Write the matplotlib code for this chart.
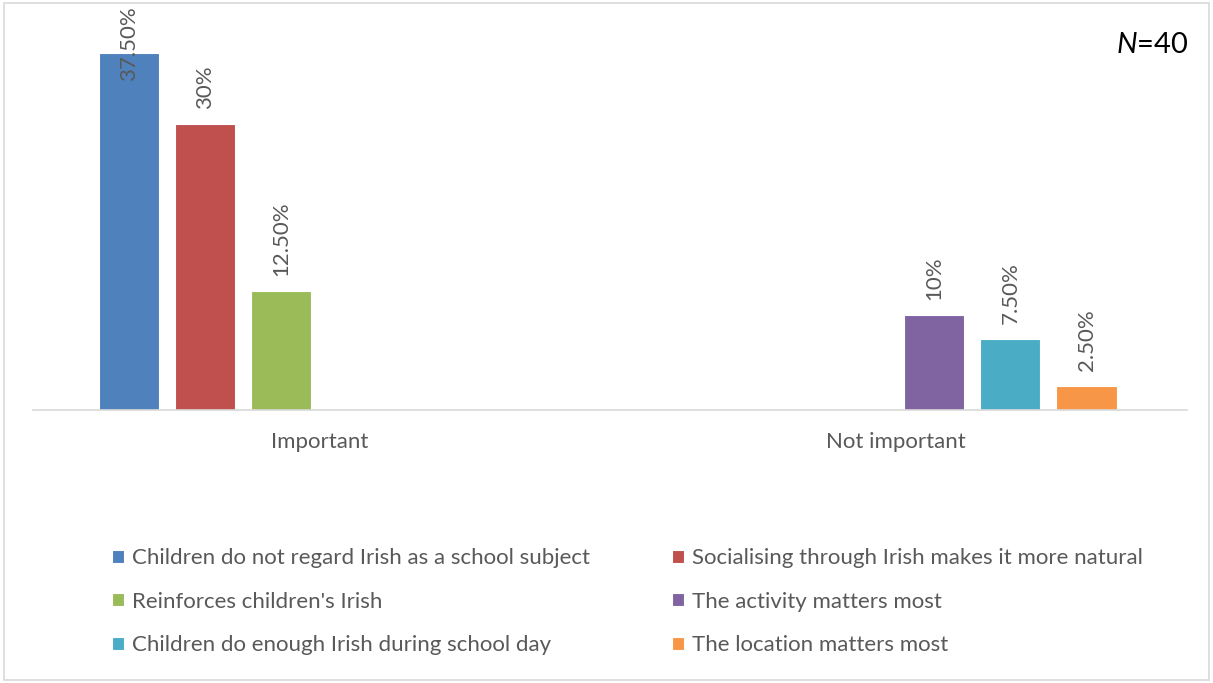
import numpy as np
import matplotlib
matplotlib.use("Agg")
import matplotlib.pyplot as plt
from matplotlib.patches import Rectangle

plt.rcParams['font.family'] = ['Lato', 'DejaVu Sans']
plt.rcParams['mathtext.fontset'] = 'custom'
plt.rcParams['mathtext.it'] = 'Lato:italic'
plt.rcParams['mathtext.rm'] = 'Lato'

# data
categories = ["Important", "Not important"]
series_names = [
    "Children do not regard Irish as a school subject",
    "Socialising through Irish makes it more natural",
    "Reinforces children's Irish",
    "The activity matters most",
    "Children do enough Irish during school day",
    "The location matters most",
]
# percentage per series for (Important, Not important); None = no bar
series_values = [
    [37.5, None],
    [30.0, None],
    [12.5, None],
    [None, 10.0],
    [None, 7.5],
    [None, 2.5],
]
value_labels = ["37.50%", "30%", "12.50%", "10%", "7.50%", "2.50%"]
colors = ["#4F81BD", "#C0504D", "#9BBB59", "#8064A2", "#4BACC6", "#F79646"]

text_col = "#595959"
fs = 16

fig = plt.figure(figsize=(12.13, 6.83), dpi=100)
ax = fig.add_axes([33 / 1213, 1 - 410 / 683, (1187 - 33) / 1213, (410 - 29) / 683])

n = len(series_names)
step = 76 / 576
width = 60 / 576
x = np.arange(len(categories))

handles = []
for i in range(n):
    vals = [np.nan if v is None else v for v in series_values[i]]
    pos = x + (i - (n - 1) / 2) * step
    b = ax.bar(pos, vals, width, color=colors[i], edgecolor="white", linewidth=0.8,
               label=series_names[i])
    handles.append(b)
    for p, v in zip(pos, series_values[i]):
        if v is None:
            continue
        if v + 9.5 > 42.5:
            # no room above the bar: push label down into the bar like Excel does
            ax.text(p, 42.4, value_labels[i], rotation=90, ha="center", va="top",
                    fontsize=fs, color=text_col, clip_on=False)
        else:
            ax.text(p, v + 1.55, value_labels[i], rotation=90, ha="center", va="bottom",
                    fontsize=fs, color=text_col, clip_on=False)

ax.set_xlim(-0.496, 1.504)
ax.set_ylim(0, 40)
ax.set_yticks([])
ax.set_xticks(x)
ax.set_xticklabels(categories, fontsize=fs, color=text_col)
ax.tick_params(axis="x", length=0, pad=16)
for s in ["top", "right", "left"]:
    ax.spines[s].set_visible(False)
ax.spines["bottom"].set_color("#D9D9D9")
ax.spines["bottom"].set_linewidth(1.2)

fig.text(1188 / 1213, 1 - 45 / 683, "$N$=40", ha="right", va="center", fontsize=21,
         color="black")

# legend: column-major order so rows read blue/red, green/purple, teal/orange
order = [0, 2, 4, 1, 3, 5]
fig.legend([handles[k] for k in order], [series_names[k] for k in order],
           ncol=2, loc="upper left", bbox_to_anchor=(112 / 1213, 1 - 548 / 683),
           frameon=False, fontsize=fs, labelcolor=text_col,
           handlelength=0.54, handleheight=0.54, handletextpad=0.38,
           labelspacing=1.06, columnspacing=3.65, borderpad=0, borderaxespad=0)

# chart border
fig.patches.append(Rectangle((4 / 1213, 3 / 683), 1205 / 1213, 677 / 683,
                             transform=fig.transFigure, fill=False,
                             edgecolor="#D9D9D9", linewidth=1.2))

fig.savefig("out.png", dpi=100)
